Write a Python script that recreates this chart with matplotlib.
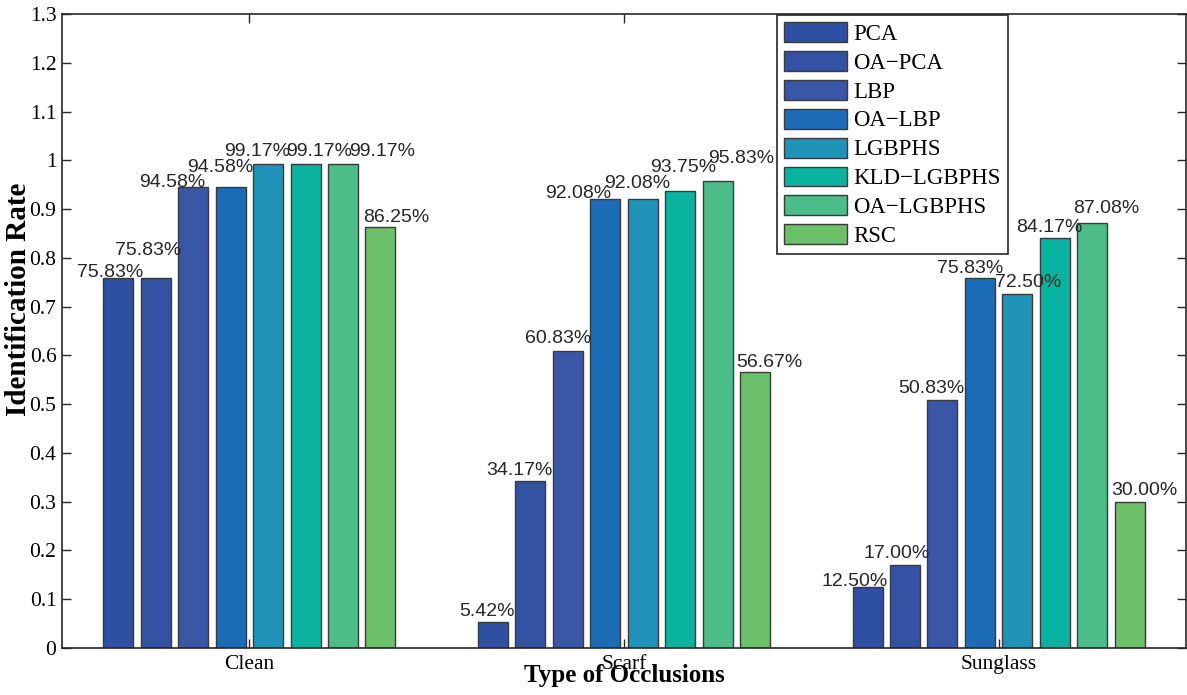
import numpy as np
import matplotlib.pyplot as plt

# ============================
# Dados
# ============================
occlusions = ["Clean", "Scarf", "Sunglass"]
methods = ["PCA", "OA\u2212PCA", "LBP", "OA\u2212LBP", "LGBPHS",
           "KLD\u2212LGBPHS", "OA\u2212LGBPHS", "RSC"]

pca       = [0.7583, 0.0542, 0.1250]
oa_pca    = [0.7583, 0.3417, 0.1700]
lbp       = [0.9458, 0.6083, 0.5083]
oa_lbp    = [0.9458, 0.9208, 0.7583]
lgbphs    = [0.9917, 0.9208, 0.7250]
kld       = [0.9917, 0.9375, 0.8417]
oa_lgbphs = [0.9917, 0.9583, 0.8708]
rsc       = [0.8625, 0.5667, 0.3000]

series = [pca, oa_pca, lbp, oa_lbp, lgbphs, kld, oa_lgbphs, rsc]

colors = ["#2F4FA2", "#3352A3", "#3A56A6", "#1B6BB6",
          "#1F93B8", "#09B39F", "#4CBC88", "#6CC069"]

# deslocamento dos rótulos (pixels) em relação ao topo de cada barra
label_dx = [[-8, -8, -21, -10, -11, 14, 39, 16],
            [-6, -11, -10, -27, -6, 3, 24, 14],
            [-13, -8, -11, -10, 11, -6, 14, 15]]
label_dy = [[1, 23, 0, 15, 8, 8, 8, 5],
            [6, 6, 8, 1, 11, 19, 18, 5],
            [1, 7, 7, 5, 7, 6, 10, 7]]

# ============================
# Figura
# ============================
fig = plt.figure(figsize=(11.87, 6.95), dpi=100)
ax = fig.add_axes([62 / 1187, 1 - 648 / 695, 1124 / 1187, 634 / 695])

x = np.arange(1, len(occlusions) + 1)
step = 0.1
width = 0.08

for i, (vals, name, col) in enumerate(zip(series, methods, colors)):
    pos = x + (i - 3.5) * step
    ax.bar(pos, vals, width=width, color=col, edgecolor="#3a3a3a",
           linewidth=1.0, label=name, zorder=2)
    for g in range(len(occlusions)):
        ax.annotate(f"{vals[g] * 100:.2f}%", (pos[g], vals[g]),
                    xytext=(label_dx[g][i], label_dy[g][i]),
                    textcoords="offset pixels", ha="center", va="baseline",
                    fontsize=14, family="Liberation Sans", color="#262626",
                    zorder=3)

ax.set_xlim(0.5, 3.5)
ax.set_ylim(0, 1.3)
ax.set_xticks(x)
ax.set_xticklabels(occlusions)
ax.set_yticks(np.arange(0, 1.31, 0.1))
ax.set_yticklabels(["0", "0.1", "0.2", "0.3", "0.4", "0.5", "0.6", "0.7",
                    "0.8", "0.9", "1", "1.1", "1.2", "1.3"])

for lab in ax.get_xticklabels() + ax.get_yticklabels():
    lab.set_family("Liberation Serif")
    lab.set_fontsize(15.5)

ax.tick_params(direction="in", length=6.5, width=1.0, color="#262626",
               top=True, right=True, pad=4)
ax.tick_params(axis="x", pad=5)
for s in ax.spines.values():
    s.set_linewidth(1.2)
    s.set_color("#262626")

ax.set_xlabel("Type of Occlusions", family="Liberation Serif",
              fontsize=18, fontweight="bold")
ax.xaxis.set_label_coords(0.5, -0.026)
ax.set_ylabel("Identification Rate", family="Liberation Serif",
              fontsize=21, fontweight="bold")
ax.yaxis.set_label_coords(-0.027, 0.55)

leg = ax.legend(loc="upper left", bbox_to_anchor=(777 / 1187, 1 - 15 / 695),
                bbox_transform=fig.transFigure, borderaxespad=0,
                prop={"family": "Liberation Serif", "size": 16.4},
                handlelength=2.76, handleheight=0.97, labelspacing=0.27,
                handletextpad=0.3, borderpad=0.3, fancybox=False,
                framealpha=1, edgecolor="#262626")
leg.get_frame().set_linewidth(1.2)

fig.savefig("out.png", dpi=100)
